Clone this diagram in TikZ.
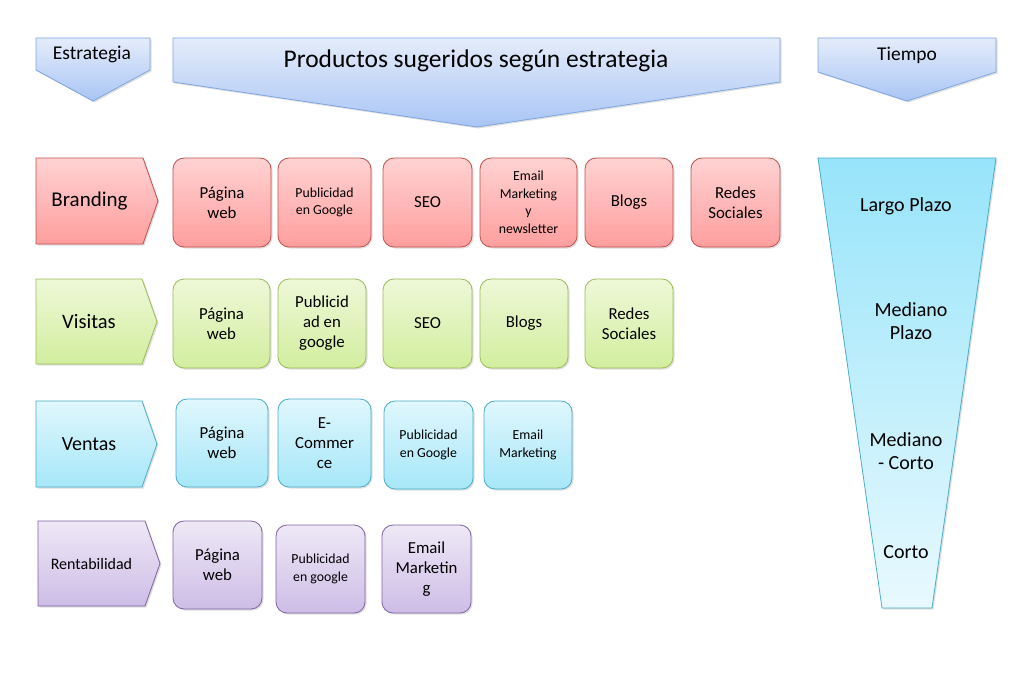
\documentclass[tikz,border=0pt]{standalone}
\usepackage{fontspec}
\setmainfont{Carlito}
\usetikzlibrary{shadows}
\definecolor{redD}{HTML}{C0504D}
\definecolor{redT}{HTML}{FFD2D2}
\definecolor{redB}{HTML}{FF9E9E}
\definecolor{grnD}{HTML}{9BBB59}
\definecolor{grnT}{HTML}{EEF8D8}
\definecolor{grnB}{HTML}{D2EE9E}
\definecolor{bluD}{HTML}{4BACC6}
\definecolor{bluT}{HTML}{E0F7FD}
\definecolor{bluB}{HTML}{A6E7F8}
\definecolor{purD}{HTML}{8064A2}
\definecolor{purT}{HTML}{EEE8F6}
\definecolor{purB}{HTML}{CDBDE6}
\definecolor{hdrD}{HTML}{7EA6E0}
\definecolor{hdrT}{HTML}{E4ECFA}
\definecolor{hdrB}{HTML}{A9C5F5}
\definecolor{funT}{HTML}{97E4FA}
\definecolor{funB}{HTML}{E8F9FE}
\tikzset{
  shd/.style={drop shadow={opacity=0.25,shadow xshift=1.5pt,shadow yshift=-1.5pt}},
  base/.style={shd,line width=0.8pt,rounded corners=11pt,align=center,inner sep=0pt,
    font=\fontsize{16.8}{20}\selectfont},
  redbox/.style={base,draw=redD,top color=redT,bottom color=redB},
  grnbox/.style={base,draw=grnD,top color=grnT,bottom color=grnB},
  blubox/.style={base,draw=bluD,top color=bluT,bottom color=bluB},
  purbox/.style={base,draw=purD,top color=purT,bottom color=purB},
  small/.style={font=\fontsize{13.8}{17.5}\selectfont},
  chev/.style={shd,line width=0.8pt},
  lbl/.style={inner sep=0pt,align=center},
}
\newcommand{\bx}[7]{%
  \node[#6,minimum width={#4-#2},minimum height={#5-#3}] (#1) at ({(#2+#4)/2},{(#3+#5)/2}) {#7};}
\newcommand{\rchev}[9]{% name x1 y1 xb xt y2 style text font
  \path[chev,#7] (#2,#3) -- (#4,#3) -- (#5,{(#3+#6)/2}) -- (#4,#6) -- (#2,#6) -- cycle;
  \node[lbl,font=#9] (#1) at ({(#2+#4)/2},{(#3+#6)/2}) {#8};}
\begin{document}
\begin{tikzpicture}[x=1pt,y=-1pt]
\useasboundingbox (0,0) rectangle (1024,682);
\fill[white] (0,0) rectangle (1024,682);
% header chevrons
\path[chev,draw=hdrD,top color=hdrT,bottom color=hdrB]
  (36,38) -- (150,38) -- (150,70) -- (93,101) -- (36,70) -- cycle;
\node[lbl,font=\fontsize{19.5}{23}\selectfont] (h1) at (92,54) {Estrategia};
\path[chev,draw=hdrD,top color=hdrT,bottom color=hdrB]
  (173,38) -- (780,38) -- (780,82) -- (477,127) -- (173,82) -- cycle;
\node[lbl,font=\fontsize{25.5}{30}\selectfont] (h2) at (476,61) {Productos sugeridos según estrategia};
\path[chev,draw=hdrD,top color=hdrT,bottom color=hdrB]
  (818,38) -- (996,38) -- (996,72) -- (907,101) -- (818,72) -- cycle;
\node[lbl,font=\fontsize{19.5}{23}\selectfont] (h3) at (907,55) {Tiempo};
% row labels
\rchev{r1}{36}{158}{143}{158}{244}{draw=redD,top color=redT,bottom color=redB}{Branding}{\fontsize{21}{25}\selectfont}
\rchev{r2}{36}{279}{142}{157}{364}{draw=grnD,top color=grnT,bottom color=grnB}{Visitas}{\fontsize{20.5}{24}\selectfont}
\rchev{r3}{36}{401}{142}{157}{487}{draw=bluD,top color=bluT,bottom color=bluB}{Ventas}{\fontsize{20}{24}\selectfont}
\rchev{r4}{38}{521}{145}{160}{606}{draw=purD,top color=purT,bottom color=purB}{Rentabilidad}{\fontsize{16}{19}\selectfont}
% row 1
\bx{a1}{173}{158}{271}{247}{redbox}{Página\\web}
\bx{a2}{278}{158}{371}{247}{redbox,small}{Publicidad\\en Google}
\bx{a3}{383}{158}{472}{247}{redbox}{SEO}
\bx{a4}{480}{158}{577}{247}{redbox,small}{Email\\Marketing\\y\\newsletter}
\bx{a5}{585}{158}{673}{247}{redbox}{Blogs}
\bx{a6}{691}{158}{780}{247}{redbox}{Redes\\Sociales}
% row 2
\bx{b1}{173}{279}{270}{368}{grnbox}{Página\\web}
\bx{b2}{278}{279}{366}{368}{grnbox}{Publicid\\ad en\\google}
\bx{b3}{383}{279}{472}{368}{grnbox}{SEO}
\bx{b4}{480}{279}{568}{368}{grnbox}{Blogs}
\bx{b5}{585}{279}{673}{368}{grnbox}{Redes\\Sociales}
% row 3
\bx{c1}{176}{399}{268}{487}{blubox}{Página\\web}
\bx{c2}{278}{399}{371}{487}{blubox}{E-\\Commer\\ce}
\bx{c3}{384}{401}{473}{489}{blubox,small}{Publicidad\\en Google}
\bx{c4}{484}{401}{572}{489}{blubox,small}{Email\\Marketing}
% row 4
\bx{d1}{173}{521}{262}{609}{purbox}{Página\\web}
\bx{d2}{276}{525}{365}{613}{purbox,small}{Publicidad\\en google}
\bx{d3}{382}{525}{471}{613}{purbox}{Email\\Marketin\\g}
% funnel
\path[chev,draw=bluD,top color=funT,bottom color=funB]
  (818,158) -- (996,158) -- (932,608) -- (882,608) -- cycle;
\node[lbl,font=\fontsize{20}{23}\selectfont] (t1) at (906,206) {Largo Plazo};
\node[lbl,font=\fontsize{20}{23}\selectfont] (t2) at (911,321) {Mediano\\Plazo};
\node[lbl,font=\fontsize{20}{23}\selectfont] (t3) at (906,451) {Mediano\\- Corto};
\node[lbl,font=\fontsize{20}{23}\selectfont] (t4) at (906,552) {Corto};
\end{tikzpicture}
\end{document}
